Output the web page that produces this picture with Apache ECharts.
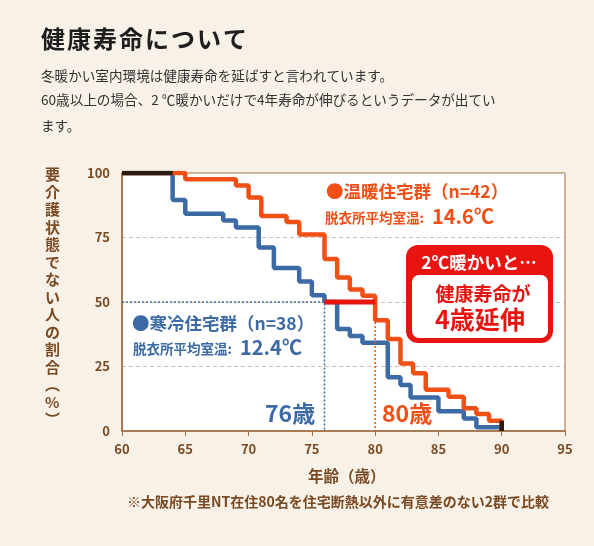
<!DOCTYPE html>
<html><head><meta charset="utf-8">
<script src="https://cdn.jsdelivr.net/npm/echarts@6/dist/echarts.min.js"></script>
<style>html,body{margin:0;padding:0;background:#f7f1e8;}#c{width:594px;height:546px;}</style>
</head><body><div id="c"></div>
<script>
// ---- data ----
const coldAges   = [60, 64, 65, 68, 69, 70.8, 72, 74, 75, 76, 77, 78, 79, 81, 82, 82.8, 85, 87, 88, 90];
const coldValues = [100, 89.5, 84.2, 81.6, 78.9, 71.1, 63.2, 57.9, 52.6, 50, 39.5, 36.8, 34.2, 20.8, 17.8, 13.0, 7.7, 4.8, 1.5, 0];
const warmAges   = [60, 65, 69, 70, 71, 73, 74, 76, 77, 78, 79, 80, 81, 82, 83, 84, 85.8, 87, 88, 89, 90];
const warmValues = [100, 97.6, 95.2, 90.5, 83.3, 81.0, 76.2, 66.7, 59.5, 54.8, 52.4, 42.9, 35.7, 26.2, 22.4, 16.0, 13.3, 8.8, 6.6, 4.0, 0];
const xTicks = [60, 65, 70, 75, 80, 85, 90, 95];
const yTicks = [0, 25, 50, 75, 100];
const coldMedian = 76, warmMedian = 80, medianLevel = 50;
const commonStartEnd = [64, 90];

const BLUE = '#3b6aa5', ORANGE = '#f04f16', RED = '#e8140f', BROWN = '#7a4a22', AXIS = '#9c6a3e';
const FONT = '"Noto Sans CJK JP", sans-serif';

const toPts = (a, v) => a.map((x, i) => [x, v[i]]);

const chart = echarts.init(document.getElementById('c'));
const vName = '要介護状態でない人の割合︵%︶'.split('').join('\n');

const titleChars = '健康寿命について'.split('').map((ch, i) => ({
  type: 'text', left: 41 + i * 26, top: 27, style: { text: ch, fill: '#1e1e1e', font: 'bold 24px ' + FONT }
}));

chart.setOption({
  backgroundColor: '#f7f1e8',
  animation: false,
  grid: { left: 122, right: 29, top: 173, bottom: 115, show: true, backgroundColor: '#ffffff', borderColor: AXIS, borderWidth: 1 },
  xAxis: {
    type: 'value', min: xTicks[0], max: xTicks[xTicks.length - 1], interval: 5,
    axisLine: { lineStyle: { color: AXIS, width: 1.5 } },
    axisTick: { show: true, length: 5, lineStyle: { color: AXIS } },
    axisLabel: { color: BROWN, fontSize: 13, fontFamily: FONT, fontWeight: 'bold', margin: 12 },
    splitLine: { show: false }
  },
  yAxis: {
    type: 'value', min: yTicks[0], max: yTicks[yTicks.length - 1], interval: 25,
    axisLine: { show: true, lineStyle: { color: AXIS, width: 1.5 } },
    axisTick: { show: false },
    axisLabel: { color: BROWN, fontSize: 13, fontFamily: FONT, fontWeight: 'bold', margin: 12 },
    splitLine: { show: true, lineStyle: { color: '#d4bfae', type: [4, 3], width: 1 } }
  },
  series: [
    { type: 'line', step: 'end', data: toPts(coldAges, coldValues), symbol: 'none',
      lineStyle: { color: BLUE, width: 4.5 }, z: 3 },
    { type: 'line', step: 'end', data: toPts(warmAges, warmValues), symbol: 'none',
      lineStyle: { color: ORANGE, width: 4.5 }, z: 4 },
    { type: 'line', data: [[xTicks[0], 100], [commonStartEnd[0], 100]], symbol: 'none',
      lineStyle: { color: '#2a1a10', width: 4.5 }, z: 5 },
    { type: 'line', data: [[commonStartEnd[1], warmValues[warmValues.length - 2]], [commonStartEnd[1], 0]], symbol: 'none',
      lineStyle: { color: '#2a1a10', width: 4.5 }, z: 5 },
    { type: 'line', data: [[xTicks[0], medianLevel], [coldMedian, medianLevel], [coldMedian, 0]], symbol: 'none',
      lineStyle: { color: BLUE, width: 1.5, type: [2, 2] }, z: 6 },
    { type: 'line', data: [[warmMedian, medianLevel], [warmMedian, 0]], symbol: 'none',
      lineStyle: { color: ORANGE, width: 1.5, type: [2, 2] }, z: 6 },
    { type: 'line', data: [[coldMedian, medianLevel], [warmMedian, medianLevel]], symbol: 'none',
      lineStyle: { color: RED, width: 5 }, z: 7 }
  ],
  graphic: titleChars.concat([
    { type: 'text', left: 41, top: 69, style: { text: '冬暖かい室内環境は健康寿命を延ばすと言われています。', fill: '#333', font: '13.6px ' + FONT } },
    { type: 'text', left: 41, top: 93, style: { text: '60歳以上の場合、2 ℃暖かいだけで4年寿命が伸びるというデータが出てい', fill: '#333', font: '13.6px ' + FONT } },
    { type: 'text', left: 41, top: 119, style: { text: 'ます。', fill: '#333', font: '13.6px ' + FONT } },
    // y axis name
    { type: 'text', left: 45, top: 166, style: { text: vName, fill: BROWN, font: 'bold 15px ' + FONT, lineHeight: 17.5, align: 'center' } },
    // x axis name
    { type: 'text', left: 308, top: 468, style: { text: '年齢（歳）', fill: BROWN, font: 'bold 15.5px ' + FONT } },
    { type: 'text', left: 127, top: 495, style: { text: '※大阪府千里NT在住80名を住宅断熱以外に有意差のない2群で比較', fill: BROWN, font: 'bold 14px ' + FONT } },
    // warm legend
    { type: 'text', left: 326, top: 183, style: { text: '●温暖住宅群（n=42）', fill: ORANGE, font: 'bold 17.5px ' + FONT } },
    { type: 'text', left: 325, top: 211, style: { text: '脱衣所平均室温:', fill: ORANGE, font: 'bold 13.5px ' + FONT } },
    { type: 'text', left: 432, top: 206, style: { text: '14.6℃', fill: ORANGE, font: 'bold 20px ' + FONT } },
    // cold legend
    { type: 'text', left: 132, top: 315, style: { text: '●寒冷住宅群（n=38）', fill: BLUE, font: 'bold 17.5px ' + FONT } },
    { type: 'text', left: 133, top: 342, style: { text: '脱衣所平均室温:', fill: BLUE, font: 'bold 13.5px ' + FONT } },
    { type: 'text', left: 240, top: 337, style: { text: '12.4℃', fill: BLUE, font: 'bold 20px ' + FONT } },
    // median labels
    { type: 'text', left: 265, top: 402, style: { text: '76歳', fill: BLUE, font: 'bold 23px ' + FONT } },
    { type: 'text', left: 382, top: 402, style: { text: '80歳', fill: ORANGE, font: 'bold 23px ' + FONT } },
    // red box
    { type: 'rect', shape: { x: 406, y: 245, width: 147, height: 98, r: 12 }, style: { fill: RED }, z: 20 },
    { type: 'rect', shape: { x: 412, y: 275, width: 136, height: 63, r: 7 }, style: { fill: '#fff' }, z: 21 },
    { type: 'text', x: 479, y: 262, z: 22, style: { text: '2℃暖かいと…', fill: '#fff', font: 'bold 17.5px ' + FONT, align: 'center', verticalAlign: 'middle' } },
    { type: 'text', x: 483, y: 294, z: 22, style: { text: '健康寿命が', fill: RED, font: 'bold 19px ' + FONT, align: 'center', verticalAlign: 'middle' } },
    { type: 'text', x: 480, y: 319, z: 22, style: { text: '4歳延伸', fill: RED, font: 'bold 25px ' + FONT, align: 'center', verticalAlign: 'middle' } }
  ])
});
</script></body></html>
